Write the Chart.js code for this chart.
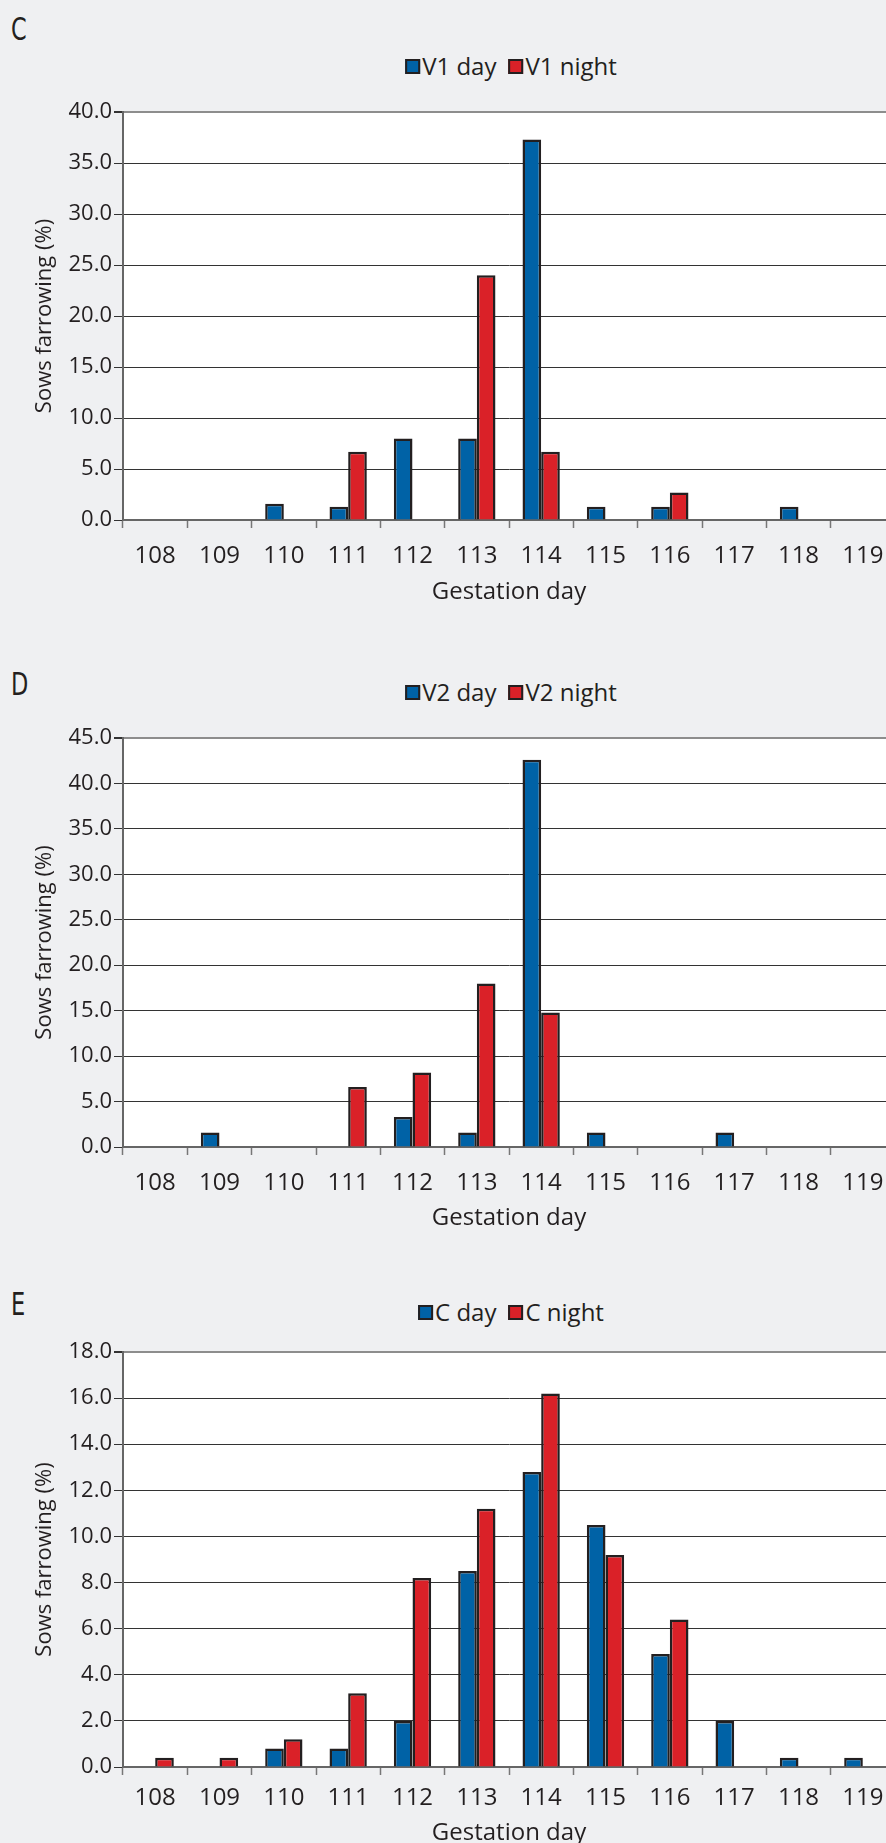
<!DOCTYPE html>
<html>
<head>
<meta charset="utf-8">
<script src="https://cdn.jsdelivr.net/npm/chart.js@4.4.1/dist/chart.umd.min.js"></script>
<style>
  html, body { margin: 0; padding: 0; }
  body {
    width: 886px; height: 1843px; overflow: hidden; position: relative;
    background: #eff0f2; color: #231f20;
    font-family: "Open Sans", "Noto Sans", sans-serif;
  }
  .panel {
    position: absolute; left: 11px;
    font-family: "Liberation Sans Narrow", "DejaVu Sans Condensed", sans-serif;
    font-size: 32px; line-height: 32px;
    transform: scaleX(0.78); transform-origin: left top;
  }
  .legend {
    position: absolute; left: 511px; transform: translateX(-50%);
    display: flex; align-items: center; white-space: nowrap;
    font-size: 24px; line-height: 28px;
  }
  .legend .item { display: flex; align-items: center; margin-right: 12px; }
  .legend .item:last-child { margin-right: 0; }
  .legend .box { width: 11px; height: 11px; border: 2px solid #231f20; margin-right: 2px; }
  canvas { position: absolute; left: 0; }
</style>
</head>
<body>

<script>
// gestation day on the x axis
const gestationDays = ['108', '109', '110', '111', '112', '113', '114', '115', '116', '117', '118', '119'];

// C: V1
const v1Day   = [0, 0, 1.6, 1.3, 8.0, 8.0, 37.3, 1.3, 1.3, 0, 1.3, 0];
const v1Night = [0, 0, 0, 6.7, 0, 24.0, 6.7, 0, 2.7, 0, 0, 0];

// D: V2
const v2Day   = [0, 1.6, 0, 0, 3.3, 1.6, 42.6, 1.6, 0, 1.6, 0, 0];
const v2Night = [0, 0, 0, 6.6, 8.2, 18.0, 14.8, 0, 0, 0, 0, 0];

// E: C
const cDay    = [0, 0, 0.8, 0.8, 2.0, 8.5, 12.8, 10.5, 4.9, 2.0, 0.4, 0.4];
const cNight  = [0.4, 0.4, 1.2, 3.2, 8.2, 11.2, 16.2, 9.2, 6.4, 0, 0, 0];

// y axis ranges
const yMaxC = 40, yStepC = 5;
const yMaxD = 45, yStepD = 5;
const yMaxE = 18, yStepE = 2;

const DAY_COLOR = '#0062a6';
const NIGHT_COLOR = '#da2128';
const EDGE = '#231f20';
const TEXT = '#231f20';
const FONT = '"Open Sans", "Noto Sans", sans-serif';

const whitePlot = {
  id: 'whitePlot',
  beforeDraw(chart) {
    const a = chart.chartArea;
    const ctx = chart.ctx;
    ctx.save();
    ctx.fillStyle = '#ffffff';
    ctx.fillRect(a.left, a.top, a.right - a.left, a.bottom - a.top);
    ctx.restore();
  }
};

function addPanel(letter, letterTop, legendTop, dayLabel, nightLabel, dayData, nightData,
                  yMax, yStep, canvasTop, plotBottom, tickPad, titlePad) {
  let p = document.createElement('div');
  p.className = 'panel';
  p.style.top = letterTop + 'px';
  p.textContent = letter;
  document.body.appendChild(p);

  let legend = document.createElement('div');
  legend.className = 'legend';
  legend.style.top = legendTop + 'px';
  [[dayLabel, DAY_COLOR], [nightLabel, NIGHT_COLOR]].forEach(([txt, col]) => {
    let item = document.createElement('span');
    item.className = 'item';
    let box = document.createElement('span');
    box.className = 'box';
    box.style.background = col;
    item.appendChild(box);
    item.appendChild(document.createTextNode(txt));
    legend.appendChild(item);
  });
  document.body.appendChild(legend);

  let canvas = document.createElement('canvas');
  canvas.width = 900;
  canvas.height = 540;
  canvas.style.top = canvasTop + 'px';
  document.body.appendChild(canvas);

  const xHeight = 540 - (plotBottom - canvasTop);

  new Chart(canvas, {
    type: 'bar',
    data: {
      labels: gestationDays,
      datasets: [
        { label: dayLabel, data: dayData, backgroundColor: DAY_COLOR, borderColor: EDGE, borderWidth: 2.5 },
        { label: nightLabel, data: nightData, backgroundColor: NIGHT_COLOR, borderColor: EDGE, borderWidth: 2.5 }
      ]
    },
    options: {
      responsive: false,
      animation: false,
      devicePixelRatio: 1,
      layout: { padding: { top: 32, right: 5, left: 0, bottom: 0 } },
      datasets: { bar: { categoryPercentage: 0.58, barPercentage: 1.0 } },
      plugins: { legend: { display: false }, tooltip: { enabled: false } },
      scales: {
        x: {
          grid: { offset: true, drawOnChartArea: false, drawTicks: true, tickLength: 8, tickColor: '#777', tickWidth: 1.5 },
          border: { color: '#666', width: 2 },
          ticks: { color: TEXT, font: { family: FONT, size: 24 }, padding: tickPad, maxRotation: 0, autoSkip: false },
          title: { display: true, text: 'Gestation day', color: TEXT, font: { family: FONT, size: 24 }, padding: { top: 0, bottom: titlePad } },
          afterFit(scale) { scale.height = xHeight; }
        },
        y: {
          min: 0,
          max: yMax,
          ticks: { stepSize: yStep, callback: v => v.toFixed(1), color: TEXT, font: { family: FONT, size: 22 }, padding: 2 },
          grid: {
            color: c => (c.tick && c.tick.value === yMax) ? '#8d8d8d' : '#333',
            lineWidth: c => (c.tick && c.tick.value === yMax) ? 2 : 1,
            tickLength: 9, tickColor: '#333', drawTicks: true
          },
          border: { color: '#666', width: 2 },
          title: { display: true, text: 'Sows farrowing (%)', color: TEXT, font: { family: FONT, size: 22 }, padding: { top: 32, bottom: 0 } },
          afterFit(scale) { scale.width = 123; }
        }
      }
    },
    plugins: [whitePlot]
  });
}

addPanel('C', 13, 52, 'V1 day', 'V1 night', v1Day, v1Night, yMaxC, yStepC, 80, 520, 14, 13);
addPanel('D', 668, 678, 'V2 day', 'V2 night', v2Day, v2Night, yMaxD, yStepD, 706, 1147, 14, 13);
addPanel('E', 1288, 1298, 'C day', 'C night', cDay, cNight, yMaxE, yStepE, 1320, 1767, 9, 12);
</script>
</body>
</html>
